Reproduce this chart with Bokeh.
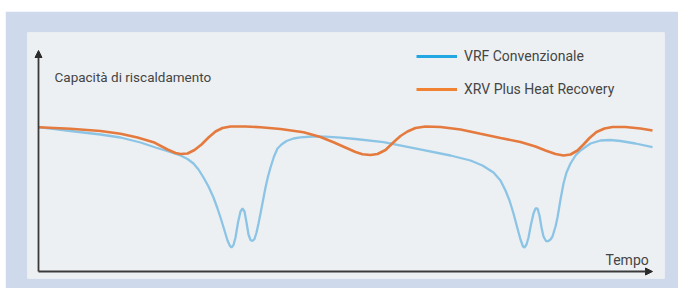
from bokeh.plotting import figure
from bokeh.models import Range1d, Arrow, NormalHead, Label, Legend, LegendItem, ColumnDataSource, Spacer
from bokeh.layouts import column, row
from bokeh.embed import file_html
from bokeh.resources import INLINE

# Time (arbitrary units) and heating capacity (arbitrary units)
vrf_t = [0, 32, 62, 82, 102, 117, 130, 142, 149, 155, 160, 165, 170, 175, 179, 182, 186, 189,
         191.5, 193, 195, 197, 199.5, 202, 204, 206, 208, 210, 212, 214, 216, 218, 220, 222,
         224.5, 227, 229.5, 232, 235.5, 239, 243, 248, 255, 262, 274, 287, 302, 317, 345, 379,
         412, 432, 444, 455, 462, 467, 471, 475, 479, 482, 484.5, 486, 488, 490, 492.5, 495,
         497, 499, 501, 503, 505, 507.5, 509.5, 512, 514, 517, 519, 522, 525, 528, 532, 537,
         542, 552, 562, 572, 582, 597, 614]
vrf_c = [144.3, 140.5, 137, 134, 129, 124, 120, 116, 112.5, 108, 102, 94, 85, 74, 63, 54, 41, 31,
         25.5, 24, 26.5, 34, 49, 60, 63, 60, 49, 37, 31.5, 30.5, 32.5, 39, 48, 58,
         71, 84, 95, 104, 115, 123, 127, 130.5, 133, 134.2, 135, 134.8, 133.8, 132.5, 129.3, 122.7,
         116, 111, 106, 99, 91, 81, 71, 58, 43, 32, 25, 24, 27, 34, 47, 58,
         63, 63, 56, 44, 35, 30.5, 30.3, 32, 35, 45, 54, 72, 88, 99, 108, 116,
         121, 128, 131, 131.5, 130.5, 128, 124.3]

xrv_t = [0, 32, 62, 82, 99, 115, 129, 137, 142, 149, 156, 163, 170, 177, 184, 192, 207, 222,
         242, 265, 282, 295, 308, 317, 324, 332, 339, 347, 355, 362, 369, 377, 387, 402, 422,
         442, 462, 482, 497, 507, 517, 525, 532, 539, 545, 551, 558, 566, 574, 587, 602, 614]
xrv_c = [144.3, 142.7, 140.5, 137.7, 134, 129.3, 122, 118.5, 117.5, 118, 121.5, 127, 134, 140,
         143.5, 145, 145, 144.3, 142.5, 139.3, 134.5, 129.3, 123.5, 119.5, 117.2, 116.5, 117.5,
         121.5, 129.3, 135.5, 140, 143.5, 145, 144.5, 142, 137.7, 133.5, 129.5, 125, 121, 117.5,
         116, 117, 121, 127, 133.5, 139.5, 143, 144.5, 144.5, 143, 141]

series_names = ["VRF Convenzionale", "XRV Plus Heat Recovery"]
y_title = "Capacità di riscaldamento"
x_title = "Tempo"
axis_t_max = 614
axis_c_max = 221

FONT = "Roboto"
TEXT_COLOR = "#454545"

p = figure(width=673, height=277, output_backend="svg", toolbar_location=None,
           x_axis_type=None, y_axis_type=None,
           x_range=Range1d(-11, 626), y_range=Range1d(-7, 239),
           min_border_left=22, min_border_right=14, min_border_top=21, min_border_bottom=10)
p.xgrid.visible = False
p.ygrid.visible = False
p.outline_line_color = None
p.background_fill_color = "#edf0f2"
p.border_fill_color = "#cfd9ec"

src_vrf = ColumnDataSource(dict(t=vrf_t, c=vrf_c))
src_xrv = ColumnDataSource(dict(t=xrv_t, c=xrv_c))
p.line("t", "c", source=src_vrf, line_color="#8cc4e6", line_width=2.3)
p.line("t", "c", source=src_xrv, line_color="#e47a3e", line_width=2.6)

# legend swatches (legend colours are brighter than the curves); no visible data
nan = float("nan")
dummy = ColumnDataSource(dict(t=[nan], c=[nan]))
r_leg1 = p.line("t", "c", source=dummy, line_color="#21a8e2", line_width=3)
r_leg2 = p.line("t", "c", source=dummy, line_color="#f08232", line_width=3)

legend = Legend(items=[LegendItem(label=series_names[0], renderers=[r_leg1]),
                       LegendItem(label=series_names[1], renderers=[r_leg2])],
                location=(389, 179), orientation="vertical",
                glyph_width=41, glyph_height=20, label_height=20, spacing=13,
                label_standoff=7, padding=0, margin=0,
                border_line_alpha=0, background_fill_alpha=0,
                label_text_font=FONT, label_text_font_size="14px",
                label_text_color=TEXT_COLOR)
p.add_layout(legend, "center")

# axes with arrows
p.add_layout(Arrow(end=NormalHead(size=7, fill_color="#2b2b2b", line_color="#2b2b2b"),
                   x_start=0, y_start=0, x_end=0, y_end=axis_c_max,
                   line_color="#3a3a3a", line_width=1.8))
p.add_layout(Arrow(end=NormalHead(size=7, fill_color="#2b2b2b", line_color="#2b2b2b"),
                   x_start=0, y_start=0, x_end=axis_t_max, y_end=0,
                   line_color="#3a3a3a", line_width=1.8))

p.add_layout(Label(x=16, y=195, text=y_title, text_font=FONT, text_font_size="13.5px",
                   text_color=TEXT_COLOR, text_align="left", text_baseline="alphabetic"))
p.add_layout(Label(x=567, y=11.3, text=x_title, text_font=FONT, text_font_size="14px",
                   text_color=TEXT_COLOR, text_align="left", text_baseline="alphabetic"))

layout = column(Spacer(width=678, height=11), row(Spacer(width=5, height=277), p))
open("out.html", "w").write(file_html(layout, INLINE))
